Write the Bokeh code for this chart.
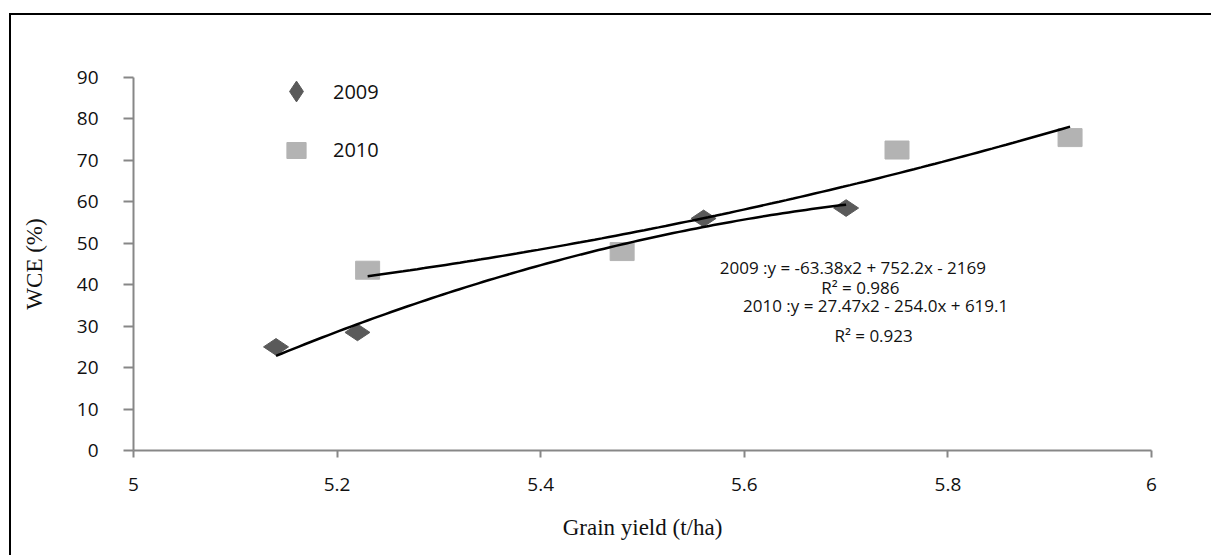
import numpy as np
from bokeh.plotting import figure
from bokeh.models import (ColumnDataSource, FixedTicker, Legend, LegendItem,
                          Label)
from bokeh.embed import file_html
from bokeh.resources import INLINE

# ---------------- data ----------------
x_2009 = [5.14, 5.22, 5.56, 5.70]
y_2009 = [25.0, 28.5, 56.0, 58.5]
x_2010 = [5.23, 5.48, 5.75, 5.92]
y_2010 = [43.5, 48.0, 72.5, 75.5]

# quadratic trend-line coefficients (as printed on the chart)
coef_2009 = [-63.38, 752.2, -2169]
coef_2010 = [27.47, -254.0, 619.1]

eq_2009 = "2009   :y = -63.38x2 + 752.2x - 2169"
r2_2009 = "R\u00b2 = 0.986"
eq_2010 = "2010 :y = 27.47x2 - 254.0x + 619.1"
r2_2010 = "R\u00b2 = 0.923"

x_ticks = [5, 5.2, 5.4, 5.6, 5.8, 6]
x_tick_labels = ["5", "5.2", "5.4", "5.6", "5.8", "6"]
y_ticks = [0, 10, 20, 30, 40, 50, 60, 70, 80, 90]

series_names = ["2009", "2010"]
colors = ["#5a5a5a", "#b3b3b3"]

# ---------------- figure ----------------
W, H = 1202, 542
p = figure(width=W, height=H, x_range=(5, 6), y_range=(0, 90),
           output_backend="svg", toolbar_location=None,
           min_border_left=122, min_border_right=62,
           min_border_top=62, min_border_bottom=107)
p.styles = {"border-left": "2px solid black", "border-top": "2px solid black",
            "margin-left": "9px", "margin-top": "13px"}
p.xgrid.visible = False
p.ygrid.visible = False
p.outline_line_color = None
p.background_fill_color = "white"
p.border_fill_color = "white"

tick_font = "Open Sans"
axis_col = "#878787"

for ax in (p.xaxis[0], p.yaxis[0]):
    ax.axis_line_color = axis_col
    ax.axis_line_width = 2
    ax.major_tick_line_color = axis_col
    ax.major_tick_line_width = 2
    ax.minor_tick_line_color = None
    ax.major_tick_in = 0
    ax.major_label_text_font = tick_font
    ax.major_label_text_font_size = "19px"
    ax.major_label_text_color = "#111111"
    ax.axis_label_text_font = "Liberation Serif"
    ax.axis_label_text_font_size = "23px"
    ax.axis_label_text_font_style = "normal"
    ax.axis_label_text_color = "#111111"

p.xaxis.ticker = FixedTicker(ticks=x_ticks)
p.xaxis.major_label_overrides = {t: l for t, l in zip(x_ticks, x_tick_labels)}
p.xaxis.major_tick_out = 7
p.xaxis.major_label_standoff = 20
p.xaxis.axis_label = "Grain yield (t/ha)"
p.xaxis.axis_label_standoff = 21

p.yaxis.ticker = FixedTicker(ticks=y_ticks)
p.yaxis.major_tick_out = 10
p.yaxis.major_label_standoff = 25
p.yaxis.axis_label = "WCE (%)"
p.yaxis.axis_label_standoff = 27

# ---------------- markers ----------------
src09 = ColumnDataSource(dict(x=x_2009, y=y_2009))
src10 = ColumnDataSource(dict(x=x_2010, y=y_2010))

r09 = p.scatter("x", "y", source=src09, marker="diamond", size=25,
                angle=np.pi / 2, fill_color=colors[0], line_color=colors[0])
r10 = p.rect("x", "y", source=src10, width=24, height=18,
             width_units="screen", height_units="screen",
             fill_color=colors[1], line_color=colors[1])

# ---------------- trend lines ----------------
xs09 = np.linspace(min(x_2009), max(x_2009), 100)
xs10 = np.linspace(min(x_2010), max(x_2010), 100)
p.line(xs09, np.polyval(coef_2009, xs09), line_color="black", line_width=2.5)
p.line(xs10, np.polyval(coef_2010, xs10), line_color="black", line_width=2.5)

# ---------------- legends ----------------
leg1 = Legend(items=[LegendItem(label=series_names[0], renderers=[r09])],
              location=(137, 333), glyph_width=52, glyph_height=52,
              label_standoff=11, padding=0, margin=0,
              border_line_color=None, background_fill_alpha=0,
              label_text_font=tick_font, label_text_font_size="20px",
              label_text_color="#111111")
leg2 = Legend(items=[LegendItem(label=series_names[1], renderers=[r10])],
              location=(151, 287), glyph_width=24, glyph_height=20,
              label_standoff=25, padding=0, margin=0,
              border_line_color=None, background_fill_alpha=0,
              label_text_font=tick_font, label_text_font_size="20px",
              label_text_color="#111111")
p.add_layout(leg1)
p.add_layout(leg2)

# ---------------- equation labels ----------------
def add_label(text, x, y):
    p.add_layout(Label(x=x, y=y, text=text, text_font=tick_font,
                       text_font_size="17px", text_color="#111111",
                       text_align="center", text_baseline="middle"))

add_label(eq_2009, 5.711, 44.2)
add_label(r2_2009, 5.714, 39.4)
add_label(eq_2010, 5.729, 35.0)
add_label(r2_2010, 5.727, 27.8)

open("out.html", "w").write(file_html(p, INLINE))
